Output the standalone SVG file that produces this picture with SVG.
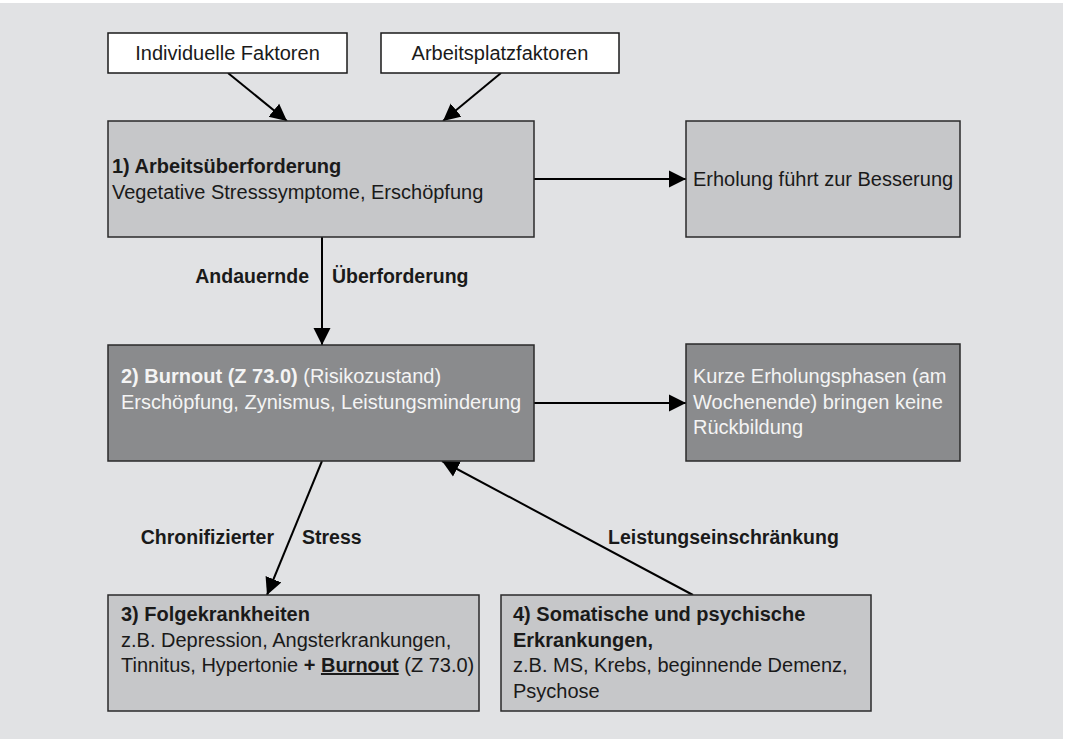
<svg xmlns="http://www.w3.org/2000/svg" width="1067" height="739" viewBox="0 0 1067 739">
<defs>
<style>
text{font-family:"Liberation Sans",Arial,sans-serif;font-size:20px;fill:#1a1a1a}
.b{font-weight:bold}
.w{fill:#f4f4f4}
.lbl{font-weight:bold;font-size:19.5px}
.white{fill:#ffffff;stroke:#1a1a1a;stroke-width:1.5}
.light{fill:#c6c7c9;stroke:#2a2a2a;stroke-width:1.5}
.dark{fill:#8a8b8d;stroke:#2a2a2a;stroke-width:1.5}
.con{stroke:#000;stroke-width:2;fill:none;marker-end:url(#ah)}
</style>
<marker id="ah" markerUnits="userSpaceOnUse" markerWidth="18" markerHeight="18" refX="17" refY="9" orient="auto">
<path d="M0,0.5 L17,9 L0,17.5 Z" fill="#000"/>
</marker>
</defs>
<rect x="0" y="3" width="1063" height="736" fill="#e1e2e4"/>

<g id="connectors">
<line class="con" x1="228" y1="73" x2="287" y2="121"/>
<line class="con" x1="501" y1="73" x2="443" y2="121"/>
<line class="con" x1="534" y1="179" x2="686" y2="179"/>
<line class="con" x1="322" y1="237" x2="322" y2="345"/>
<line class="con" x1="534" y1="403" x2="686" y2="403"/>
<line class="con" x1="322" y1="461" x2="267" y2="595"/>
<line class="con" x1="693" y1="595" x2="442" y2="461"/>
<text class="lbl" x="309" y="283" text-anchor="end">Andauernde</text>
<text class="lbl" x="332" y="283">Überforderung</text>
<text class="lbl" x="274" y="544" text-anchor="end">Chronifizierter</text>
<text class="lbl" x="302" y="544">Stress</text>
<text class="lbl" x="608" y="544">Leistungseinschränkung</text>
</g>

<g id="n-individuell">
<rect class="white" x="108" y="33" width="239" height="40"/>
<text x="227.5" y="60" text-anchor="middle">Individuelle Faktoren</text>
</g>
<g id="n-arbeitsplatz">
<rect class="white" x="381" y="33" width="238" height="40"/>
<text x="500" y="60" text-anchor="middle">Arbeitsplatzfaktoren</text>
</g>
<g id="n-1">
<rect class="light" x="108" y="121" width="426" height="116"/>
<text class="b" x="112" y="173">1) Arbeitsüberforderung</text>
<text x="112" y="199">Vegetative Stresssymptome, Erschöpfung</text>
</g>
<g id="n-erholung">
<rect class="light" x="686" y="121" width="274" height="116"/>
<text x="693" y="186">Erholung führt zur Besserung</text>
</g>
<g id="n-2">
<rect class="dark" x="108" y="345" width="426" height="116"/>
<text class="w" x="121" y="383"><tspan class="b">2) Burnout (Z 73.0)</tspan> (Risikozustand)</text>
<text class="w" x="121" y="409">Erschöpfung, Zynismus, Leistungsminderung</text>
</g>
<g id="n-kurze">
<rect class="dark" x="686" y="344" width="274" height="117"/>
<text class="w" x="693" y="383">Kurze Erholungsphasen (am</text>
<text class="w" x="693" y="408.5">Wochenende) bringen keine</text>
<text class="w" x="693" y="434">Rückbildung</text>
</g>
<g id="n-3">
<rect class="light" x="108" y="595" width="371" height="116"/>
<text class="b" x="121" y="621">3) Folgekrankheiten</text>
<text x="121" y="647">z.B. Depression, Angsterkrankungen,</text>
<text x="121" y="672">Tinnitus, Hypertonie <tspan class="b">+</tspan> <tspan class="b" text-decoration="underline">Burnout</tspan> (Z 73.0)</text>
</g>
<g id="n-4">
<rect class="light" x="501" y="595" width="370" height="116"/>
<text class="b" x="513" y="621">4) Somatische und psychische</text>
<text class="b" x="513" y="647">Erkrankungen,</text>
<text x="513" y="672">z.B. MS, Krebs, beginnende Demenz,</text>
<text x="513" y="698">Psychose</text>
</g>
</svg>
